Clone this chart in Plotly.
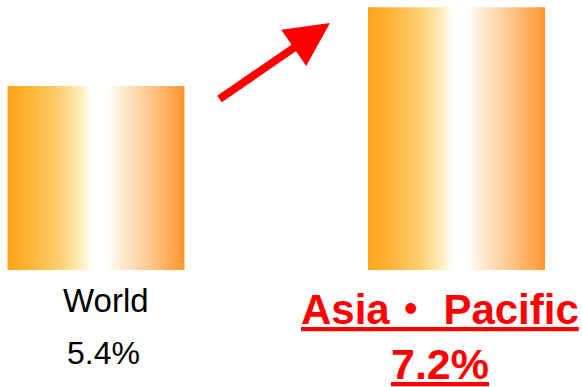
import plotly.graph_objects as go

# ---- data ----
categories = ["World", "Asia・ Pacific"]
values = [5.4, 7.2]
value_labels = ["5.4%", "7.2%"]

# ---- style / layout constants ----
W, H = 582, 387
BASE = 1.2            # axis value where bars start (chart is drawn on a truncated scale)
HALF = 0.2455         # half bar width in category units
X_RANGE = [-0.2663, 1.3481]
Y_RANGE = [-1.471, 7.364]
GRAD = [[0.0, "#FFA41A"], [0.15, "#FFB73E"], [0.3, "#FFD075"], [0.42, "#FFF0C0"],
        [0.48, "#FFFFFF"], [0.56, "#FFFFFF"], [0.65, "#FFEAD0"], [0.8, "#FFC88E"],
        [1.0, "#FF952E"]]

fig = go.Figure()
for i, (cat, v) in enumerate(zip(categories, values)):
    fig.add_trace(go.Scatter(
        x=[i - HALF, i + HALF, i + HALF, i - HALF, i - HALF],
        y=[BASE, BASE, v, v, BASE],
        mode="lines", line=dict(width=0),
        fill="toself",
        fillgradient=dict(type="horizontal", colorscale=GRAD),
        name=cat, showlegend=False, hoverinfo="skip",
    ))

FONT = "Liberation Sans, Arial, Noto Sans CJK JP, sans-serif"

annotations = [
    # World label and value
    dict(x=0, y=1 - 300 / H, xref="x", yref="paper", xshift=10,
         text=categories[0], showarrow=False, xanchor="center", yanchor="middle",
         font=dict(family=FONT, size=33, color="#000000")),
    dict(x=0, y=1 - 352.5 / H, xref="x", yref="paper", xshift=7,
         text=value_labels[0], showarrow=False, xanchor="center", yanchor="middle",
         font=dict(family=FONT, size=32, color="#000000")),
    # Asia-Pacific label and value (red, bold, underlined)
    dict(x=1, y=1 - 309 / H, xref="x", yref="paper", xshift=-17,
         text="<b><u>" + categories[1] + "</u></b>", showarrow=False,
         xanchor="center", yanchor="middle",
         font=dict(family=FONT, size=42, color="#FF0000")),
    dict(x=1, y=1 - 364 / H, xref="x", yref="paper", xshift=-17,
         text="<b><u>" + value_labels[1] + "</u></b>", showarrow=False,
         xanchor="center", yanchor="middle",
         font=dict(family=FONT, size=43, color="#FF0000")),
    # red arrow
    dict(x=330 / W, y=1 - 23 / H, xref="paper", yref="paper",
         ax=-112, ay=77, text="", showarrow=True,
         arrowhead=2, arrowsize=1.1, arrowwidth=8, arrowcolor="#FF0000"),
]

fig.update_layout(
    width=W, height=H,
    margin=dict(l=0, r=0, t=0, b=0),
    paper_bgcolor="white", plot_bgcolor="white",
    xaxis=dict(range=X_RANGE, visible=False, fixedrange=True),
    yaxis=dict(range=Y_RANGE, visible=False, fixedrange=True),
    annotations=annotations,
    showlegend=False,
)

fig.write_html("out.html")
